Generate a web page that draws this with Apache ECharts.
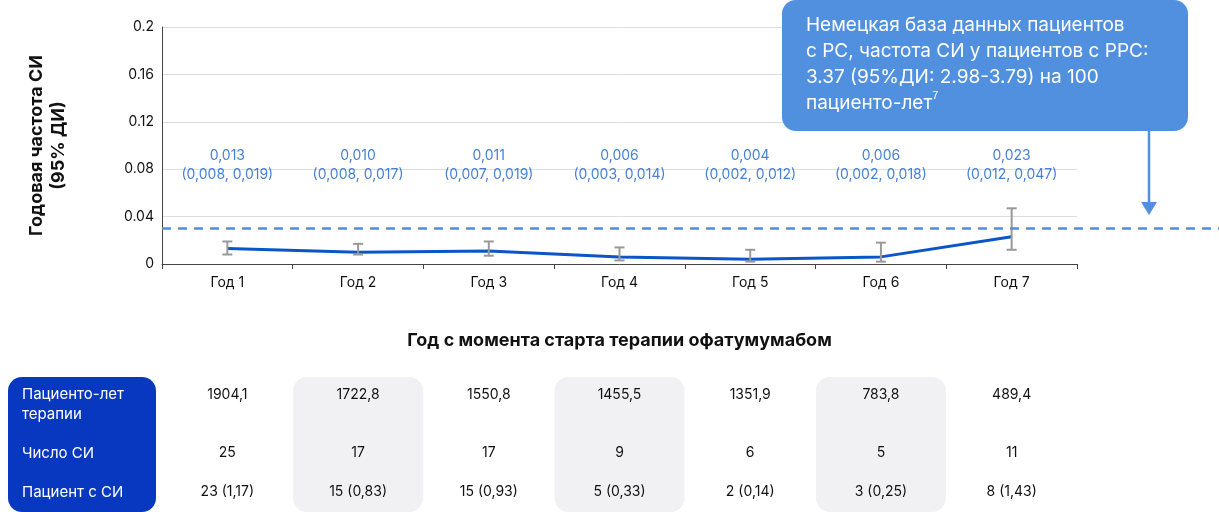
<!DOCTYPE html>
<html><head><meta charset="utf-8">
<script src="https://cdn.jsdelivr.net/npm/echarts@6/dist/echarts.min.js"></script>
<style>html,body{margin:0;padding:0;background:#fff}#c{width:1219px;height:512px}</style>
</head><body><div id="c"></div>
<script>
const categories = ['Год 1','Год 2','Год 3','Год 4','Год 5','Год 6','Год 7'];
const rate = [0.013,0.010,0.011,0.006,0.004,0.006,0.023];
const lower = [0.008,0.008,0.007,0.003,0.002,0.002,0.012];
const upper = [0.019,0.017,0.019,0.014,0.012,0.018,0.047];
const refValue = 0.03;
const rowLabels = ['Пациенто-лет\nтерапии','Число СИ','Пациент с СИ'];
const rowYears = ['1904,1','1722,8','1550,8','1455,5','1351,9','783,8','489,4'];
const rowEvents = ['25','17','17','9','6','5','11'];
const rowPatients = ['23 (1,17)','15 (0,83)','15 (0,93)','5 (0,33)','2 (0,14)','3 (0,25)','8 (1,43)'];
const calloutText = 'Немецкая база данных пациентов\nс РС, частота СИ у пациентов с РРС:\n3.37 (95%ДИ: 2.98-3.79) на 100\nпациенто-лет{s|7}';
const fmt = v => v.toFixed(3).replace('.', ',');
const F = 'Inter, "Noto Sans", sans-serif';

const chart = echarts.init(document.getElementById('c'));
chart.setOption({
  animation:false,
  grid:{left:162,right:142,top:27,bottom:248},
  xAxis:{type:'category',data:categories,
    axisLine:{lineStyle:{color:'#444'}},axisTick:{show:true,lineStyle:{color:'#444'}},
    axisLabel:{color:'#111',fontSize:14,fontFamily:F,margin:12},
    name:'Год с момента старта терапии офатумумабом',nameLocation:'middle',nameGap:68,
    nameTextStyle:{fontSize:18,fontWeight:'bold',color:'#111',fontFamily:F}},
  yAxis:{type:'value',min:0,max:0.2,interval:0.04,
    axisLine:{show:true,lineStyle:{color:'#444'}},
    axisLabel:{color:'#111',fontSize:14,fontFamily:F,formatter:v=>String(+v.toFixed(2))},
    splitLine:{lineStyle:{color:'#ddd'}},
    name:'Годовая частота СИ\n(95% ДИ)',nameLocation:'middle',nameGap:92,
    nameTextStyle:{fontSize:18,fontWeight:'bold',color:'#111',fontFamily:F,lineHeight:22}},
  series:[
    {type:'line',data:rate,symbol:'none',lineStyle:{color:'#0a55c8',width:3},z:3},
    {type:'custom',z:4,data:categories.map((c,i)=>[i,lower[i],upper[i]]),
      renderItem:(p,api)=>{
        const lo=api.coord([api.value(0),api.value(1)]), hi=api.coord([api.value(0),api.value(2)]);
        const st={stroke:'#999',lineWidth:2};
        return {type:'group',children:[
          {type:'line',shape:{x1:lo[0],y1:lo[1],x2:hi[0],y2:hi[1]},style:st},
          {type:'line',shape:{x1:lo[0]-5,y1:lo[1],x2:lo[0]+5,y2:lo[1]},style:st},
          {type:'line',shape:{x1:hi[0]-5,y1:hi[1],x2:hi[0]+5,y2:hi[1]},style:st}]};
      }},
    {type:'scatter',data:categories.map((c,i)=>[i,0.08]),symbolSize:0,silent:true,
      label:{show:true,position:'inside',color:'#1560c8',fontSize:14,fontFamily:F,lineHeight:19,
        formatter:p=>fmt(rate[p.dataIndex])+'\n('+fmt(lower[p.dataIndex])+', '+fmt(upper[p.dataIndex])+')',
        offset:[0,-4]}}
  ]
});

const y0 = chart.convertToPixel({yAxisIndex:0}, refValue);
const cx = categories.map((c,i)=>chart.convertToPixel({xAxisIndex:0}, i));
const g = [];
g.push({type:'line',shape:{x1:162,y1:y0,x2:1219,y2:y0},style:{stroke:'#5090de',lineWidth:2.5,lineDash:[9,7]},z:10});
g.push({type:'rect',shape:{x:782,y:0,width:406,height:131,r:14},style:{fill:'#5090de'},z:10});
g.push({type:'text',x:806,y:12,style:{text:calloutText,fill:'#fff',font:'19px '+F,lineHeight:26,
  rich:{s:{fontSize:11,verticalAlign:'top',fill:'#fff',padding:[0,0,10,0]}}},z:11});
g.push({type:'line',shape:{x1:1149,y1:131,x2:1149,y2:203},style:{stroke:'#5090de',lineWidth:2.5},z:10});
g.push({type:'polygon',shape:{points:[[1141,202],[1157,202],[1149,215]]},style:{fill:'#5090de'},z:10});
g.push({type:'rect',shape:{x:8,y:377,width:148,height:135,r:14},style:{fill:'#0838bf'}});
[1,3,5].forEach(i=>g.push({type:'rect',shape:{x:cx[i]-65,y:377,width:130,height:135,r:14},style:{fill:'#f1f1f3'}}));
const rowY=[404,453,492];
rowLabels.forEach((t,r)=>g.push({type:'text',x:22,y:rowY[r],style:{text:t,fill:'#fff',font:'15px '+F,lineHeight:20,verticalAlign:'middle'}}));
[rowYears,rowEvents,rowPatients].forEach((arr,r)=>arr.forEach((t,i)=>g.push({type:'text',x:cx[i],y:r===0?395:rowY[r],
  style:{text:t,fill:'#111',font:'14px '+F,align:'center',verticalAlign:'middle'}})));
chart.setOption({graphic:g});
</script></body></html>
